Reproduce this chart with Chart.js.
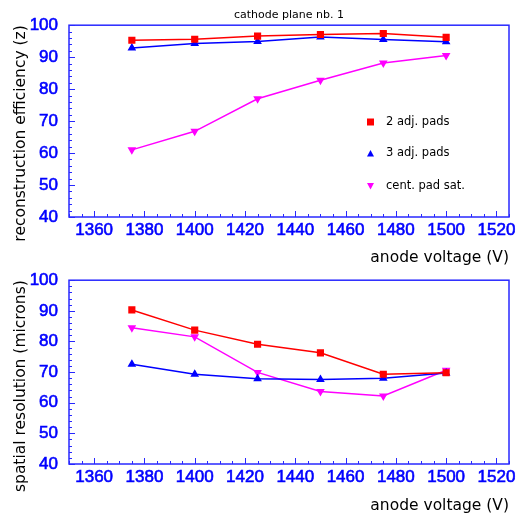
<!DOCTYPE html>
<html>
<head>
<meta charset="utf-8">
<script src="https://cdn.jsdelivr.net/npm/chart.js@4/dist/chart.umd.min.js"></script>
<style>
  body { margin: 0; background: #fff; }
  #wrap { position: relative; width: 519px; height: 518px; }
  canvas { position: absolute; left: 0; }
  #effChart { top: 0; }
  #resChart { top: 259px; }
</style>
</head>
<body>
<div id="wrap">
  <canvas id="effChart" width="519" height="270"></canvas>
  <canvas id="resChart" width="519" height="259"></canvas>
</div>
<script>
// anode voltage (V)
let voltages = [1375, 1400, 1425, 1450, 1475, 1500]

// reconstruction efficiency (z)
let eff2adj = [95.3, 95.6, 96.6, 97.1, 97.4, 96.2]
let eff3adj = [92.9, 94.3, 94.9, 96.3, 95.5, 94.8]
let effCent = [61.0, 66.8, 77.0, 82.8, 88.2, 90.5]

// spatial resolution (microns)
let res2adj = [90.3, 83.7, 79.1, 76.3, 69.3, 69.8]
let res3adj = [72.6, 69.3, 67.8, 67.6, 68.0, 69.7]
let resCent = [84.5, 81.5, 69.9, 63.7, 62.2, 70.6]

let xTicks = [1360, 1380, 1400, 1420, 1440, 1460, 1480, 1500, 1520]
let yTicks = [40, 50, 60, 70, 80, 90, 100]

let seriesLabels = ['2 adj. pads', '3 adj. pads', 'cent. pad sat.']

let axisBlue = 'rgb(40,40,255)'
let tickBlue = '#0000ff'

function points(values) {
    return voltages.map(function(v, i) { return {x: v, y: values[i]} })
}

function makeDatasets(a, b, c) {
    return [{
        label: seriesLabels[0],
        data: points(a),
        borderColor: '#ff0000',
        backgroundColor: '#ff0000',
        pointStyle: 'rect',
        pointRadius: 4,
        borderWidth: 1.5
    }, {
        label: seriesLabels[1],
        data: points(b),
        borderColor: '#0000ff',
        backgroundColor: '#0000ff',
        pointStyle: 'triangle',
        pointRadius: 3.5,
        borderWidth: 1.5
    }, {
        label: seriesLabels[2],
        data: points(c),
        borderColor: '#ff00ff',
        backgroundColor: '#ff00ff',
        pointStyle: 'triangle',
        pointRotation: 180,
        pointRadius: 3.5,
        borderWidth: 1.5
    }]
}

// blue box with inward ticks, like the original ROOT frame
let framePlugin = {
    id: 'frame',
    afterDraw(chart) {
        let ctx = chart.ctx
        let a = chart.chartArea
        let x = chart.scales.x
        let y = chart.scales.y
        ctx.save()
        ctx.strokeStyle = axisBlue
        ctx.lineWidth = 1.5
        ctx.strokeRect(a.left, a.top, a.right - a.left, a.bottom - a.top)
        ctx.lineWidth = 1
        ctx.beginPath()
        for (let v = x.min; v <= x.max; v += 5) {
            let px = Math.round(x.getPixelForValue(v)) + 0.5
            let len = v % 20 === 0 ? 6 : 3
            ctx.moveTo(px, a.bottom)
            ctx.lineTo(px, a.bottom - len)
        }
        for (let v = y.min; v <= y.max; v += 2) {
            let py = Math.round(y.getPixelForValue(v)) + 0.5
            let len = v % 10 === 0 ? 6 : 3
            ctx.moveTo(a.left, py)
            ctx.lineTo(a.left + len, py)
        }
        ctx.stroke()
        ctx.restore()
    }
}

// legend drawn inside the upper frame
let legendPlugin = {
    id: 'innerLegend',
    afterDraw(chart) {
        let ctx = chart.ctx
        let rows = [122, 153.5, 186]
        let mx = 370.5
        ctx.save()
        chart.data.datasets.forEach(function(ds, i) {
            let yy = rows[i]
            ctx.fillStyle = ds.backgroundColor
            ctx.beginPath()
            if (ds.pointStyle === 'rect') {
                ctx.rect(mx - 3.5, yy - 3.5, 7, 7)
            } else if (ds.pointRotation === 180) {
                ctx.moveTo(mx - 3.5, yy - 3)
                ctx.lineTo(mx + 3.5, yy - 3)
                ctx.lineTo(mx, yy + 3.5)
            } else {
                ctx.moveTo(mx - 3.5, yy + 3)
                ctx.lineTo(mx + 3.5, yy + 3)
                ctx.lineTo(mx, yy - 3.5)
            }
            ctx.closePath()
            ctx.fill()
            ctx.fillStyle = '#000'
            ctx.font = '11.5px "DejaVu Sans"'
            ctx.textBaseline = 'middle'
            ctx.fillText(ds.label, 386, yy)
        })
        ctx.restore()
    }
}

function makeScales(yTitle, xHeight, tickPad) {
    return {
        x: {
            type: 'linear',
            min: 1350,
            max: 1525,
            afterBuildTicks: function(s) { s.ticks = xTicks.map(function(v) { return {value: v} }) },
            afterFit: function(s) { s.height = xHeight },
            grid: {display: false, drawTicks: false},
            border: {display: false},
            ticks: {
                color: tickBlue,
                textStrokeColor: tickBlue,
                textStrokeWidth: 0.6,
                font: {family: 'Liberation Sans', size: 17},
                padding: tickPad,
                autoSkip: false,
                maxRotation: 0,
                callback: function(v) { return String(v) }
            },
            title: {
                display: true,
                text: 'anode voltage (V)',
                align: 'end',
                color: '#000',
                font: {family: 'DejaVu Sans', size: 15.5},
                padding: 0
            }
        },
        y: {
            min: 40,
            max: 100,
            afterBuildTicks: function(s) { s.ticks = yTicks.map(function(v) { return {value: v} }) },
            afterFit: function(s) { s.width = 69 },
            grid: {display: false, drawTicks: false},
            border: {display: false},
            ticks: {
                color: tickBlue,
                textStrokeColor: tickBlue,
                textStrokeWidth: 0.6,
                font: {family: 'Liberation Sans', size: 17},
                padding: 11,
                callback: function(v) { return String(v) }
            },
            title: {
                display: true,
                text: yTitle,
                align: 'end',
                color: '#000',
                font: {family: 'DejaVu Sans', size: 15.5},
                padding: {top: 12, bottom: 0}
            }
        }
    }
}

let effChart = new Chart(document.getElementById('effChart').getContext('2d'), {
    type: 'scatter',
    data: {datasets: makeDatasets(eff2adj, eff3adj, effCent)},
    options: {
        responsive: false,
        animation: false,
        showLine: true,
        layout: {padding: {top: 0, right: 10, bottom: 3, left: 0}},
        scales: makeScales('reconstruction efficiency (z)', 50, 2.8),
        plugins: {
            legend: {display: false},
            tooltip: {enabled: false},
            title: {
                display: true,
                fullSize: false,
                text: 'cathode plane nb. 1',
                color: '#000',
                font: {family: 'DejaVu Sans', size: 11, weight: 'normal'},
                padding: {top: 9, bottom: 3}
            }
        }
    },
    plugins: [framePlugin, legendPlugin]
})

let resChart = new Chart(document.getElementById('resChart').getContext('2d'), {
    type: 'scatter',
    data: {datasets: makeDatasets(res2adj, res3adj, resCent)},
    options: {
        responsive: false,
        animation: false,
        showLine: true,
        layout: {padding: {top: 13, right: 10, bottom: 3, left: 0}},
        scales: makeScales('spatial resolution (microns)', 51, 3.3),
        plugins: {
            legend: {display: false},
            tooltip: {enabled: false}
        }
    },
    plugins: [framePlugin]
})
</script>
</body>
</html>
